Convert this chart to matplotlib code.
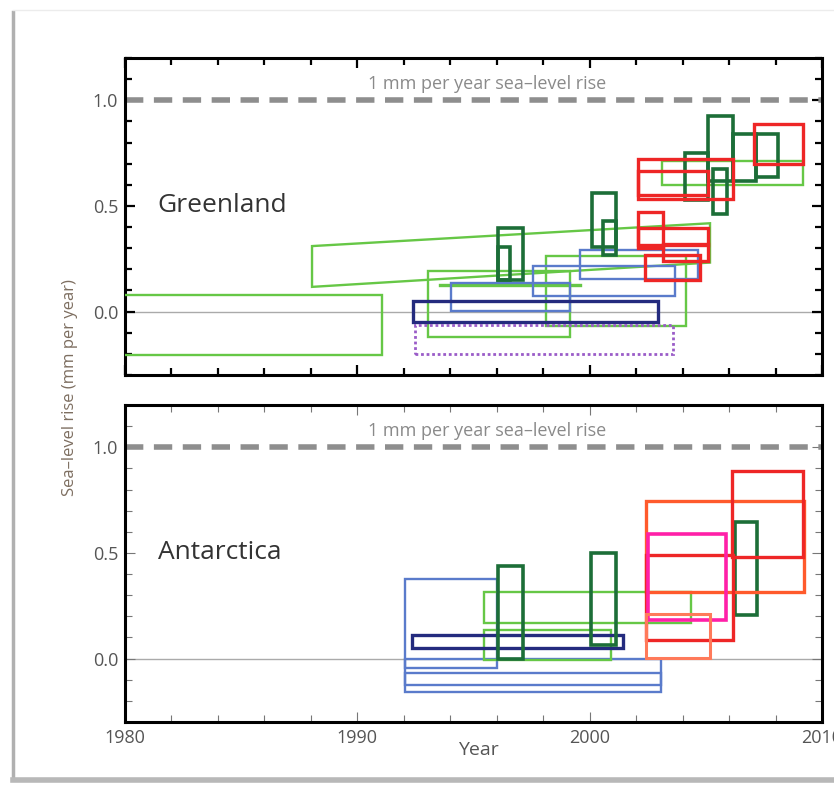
import matplotlib
matplotlib.use("Agg")
import matplotlib.pyplot as plt
from matplotlib.patches import Rectangle, Polygon
from matplotlib.lines import Line2D
from matplotlib.ticker import MultipleLocator

plt.rcParams["font.family"] = ["Open Sans", "DejaVu Sans"]

# boxes are (start year, end year, low rate, high rate) in mm per year
gre_light_green = [
    (1978.0, 1991.05, -0.205, 0.08),
    (1993.05, 1999.15, -0.118, 0.19),
    (1993.55, 1999.64, 0.119, 0.125),
    (1998.1, 2004.14, -0.067, 0.262),
    (2003.1, 2009.17, 0.60, 0.711),
]
# trend band: start, end, low at start, high at start, low at end, high at end
gre_trend = (1988.05, 2005.18, 0.117, 0.31, 0.232, 0.418)
gre_dark_green = [
    (1996.05, 1997.14, 0.151, 0.397),
    (1996.05, 1996.56, 0.151, 0.305),
    (2000.1, 2001.13, 0.305, 0.559),
    (2000.56, 2001.13, 0.27, 0.43),
    (2004.1, 2005.1, 0.527, 0.75),
    (2005.1, 2006.15, 0.62, 0.924),
    (2006.15, 2007.16, 0.62, 0.84),
    (2007.16, 2008.1, 0.635, 0.84),
    (2005.32, 2005.9, 0.463, 0.675),
]
gre_blue = [
    (1994.04, 1999.15, 0.003, 0.135),
    (1997.57, 2003.66, 0.076, 0.218),
    (1999.58, 2004.67, 0.154, 0.29),
]
gre_navy = [(1992.38, 2002.94, -0.048, 0.05)]
gre_purple = [(1992.5, 2003.6, -0.2, -0.063)]
gre_red = [
    (2002.09, 2006.15, 0.535, 0.72),
    (2002.09, 2005.1, 0.552, 0.667),
    (2007.09, 2009.17, 0.70, 0.886),
    (2002.09, 2003.14, 0.30, 0.473),
    (2002.09, 2005.1, 0.314, 0.397),
    (2003.14, 2005.1, 0.238, 0.32),
    (2002.37, 2004.74, 0.148, 0.267),
]

ant_blue = [
    (1992.04, 1996.03, -0.046, 0.378),
    (1992.04, 2003.05, -0.124, 0.0),
    (1992.04, 2003.05, -0.16, -0.067),
]
ant_navy = [(1992.36, 2001.45, 0.051, 0.114)]
ant_light_green = [
    (1995.47, 2000.93, -0.008, 0.135),
    (1995.47, 2004.35, 0.17, 0.316),
]
ant_dark_green = [
    (1996.05, 1997.14, 0.0, 0.44),
    (2000.07, 2001.13, 0.062, 0.5),
    (2006.25, 2007.19, 0.206, 0.646),
]
ant_orange = [(2002.42, 2009.24, 0.313, 0.746)]
ant_red = [
    (2006.11, 2009.17, 0.482, 0.889),
    (2002.42, 2006.15, 0.086, 0.492),
]
ant_magenta = [(2002.49, 2005.87, 0.181, 0.59)]
ant_salmon = [(2002.42, 2005.18, 0.003, 0.21)]

year_ticks = [1980, 1990, 2000, 2010]
rate_ticks = [0.0, 0.5, 1.0]
reference_rate = 1.0

styles = {
    "light_green": dict(color="#66C746", lw=1.7),
    "dark_green": dict(color="#1C6E38", lw=2.6),
    "blue": dict(color="#5A7BCB", lw=1.7),
    "navy": dict(color="#242B7E", lw=2.4),
    "purple": dict(color="#9A5CC8", lw=2.0, ls=(0, (1, 1))),
    "red": dict(color="#EE2626", lw=2.4),
    "orange": dict(color="#FF5A2C", lw=2.4),
    "magenta": dict(color="#FF20A8", lw=2.6),
    "salmon": dict(color="#FF7A5A", lw=2.2),
}


def draw_boxes(ax, boxes, style):
    st = styles[style]
    for x0, x1, y0, y1 in boxes:
        ax.add_patch(Rectangle((x0, y0), x1 - x0, y1 - y0, fill=False,
                               edgecolor=st["color"], lw=st["lw"],
                               ls=st.get("ls", "-"), zorder=3))


def setup(ax, name, heavy):
    ax.set_xlim(1980, 2010)
    ax.set_ylim(-0.3, 1.2)
    ax.axhline(0, color="#aaaaaa", lw=1, zorder=1)
    ax.axhline(reference_rate, color="#8e8e8e", lw=4, dashes=(3.3, 1.9), zorder=2)
    ax.text(1995.6, 1.075, "1 mm per year sea\u2013level rise", ha="center",
            va="center", fontsize=13, color="#8a8a8a")
    ax.text(1981.4, 0.5, name, ha="left", va="center", fontsize=19, color="#333333")
    ax.set_xticks(year_ticks)
    ax.set_yticks(rate_ticks)
    ax.xaxis.set_minor_locator(MultipleLocator(2))
    ax.yaxis.set_minor_locator(MultipleLocator(0.1))
    ax.yaxis.set_major_formatter(plt.FuncFormatter(lambda v, p: f"{v:.1f}"))
    tc = "black" if heavy else "#777777"
    tw = 1.6 if heavy else 0.8
    ax.tick_params(which="both", direction="in", top=True, right=True,
                   color=tc, width=tw, labelsize=13, labelcolor="#555555", pad=5)
    ax.tick_params(which="major", length=7)
    ax.tick_params(which="minor", length=5)
    for sp in ax.spines.values():
        sp.set_linewidth(2.2)
        sp.set_color("black")


fig = plt.figure(figsize=(8.34, 7.86), dpi=100)

# page frame like the screenshot
fig.add_artist(Line2D([13 / 834, 13 / 834], [10 / 786, 1 - 12 / 786],
                      transform=fig.transFigure, color="#b0b0b0", lw=2.5))
fig.add_artist(Line2D([13 / 834, 1], [1 - 10 / 786, 1 - 10 / 786],
                      transform=fig.transFigure, color="#ececec", lw=1))
fig.add_artist(Line2D([13 / 834, 1], [6 / 786, 6 / 786],
                      transform=fig.transFigure, color="#b8b8b8", lw=4))

ax1 = fig.add_axes([125 / 834, 1 - 375 / 786, 697 / 834, 317 / 786])
ax2 = fig.add_axes([125 / 834, 1 - 722 / 786, 697 / 834, 317 / 786])

setup(ax1, "Greenland", True)
setup(ax2, "Antarctica", False)
ax1.tick_params(labelbottom=False)

# Greenland
draw_boxes(ax1, gre_light_green, "light_green")
x0, x1, lo0, hi0, lo1, hi1 = gre_trend
ax1.add_patch(Polygon([(x0, lo0), (x0, hi0), (x1, hi1), (x1, lo1)], closed=True,
                      fill=False, edgecolor=styles["light_green"]["color"],
                      lw=styles["light_green"]["lw"], zorder=3))
draw_boxes(ax1, gre_blue, "blue")
draw_boxes(ax1, gre_navy, "navy")
draw_boxes(ax1, gre_purple, "purple")
draw_boxes(ax1, gre_dark_green, "dark_green")
draw_boxes(ax1, gre_red, "red")

# Antarctica
draw_boxes(ax2, ant_blue, "blue")
draw_boxes(ax2, ant_light_green, "light_green")
draw_boxes(ax2, ant_navy, "navy")
draw_boxes(ax2, ant_dark_green, "dark_green")
draw_boxes(ax2, ant_orange, "orange")
draw_boxes(ax2, ant_red, "red")
draw_boxes(ax2, ant_magenta, "magenta")
draw_boxes(ax2, ant_salmon, "salmon")

fig.text(70 / 834, 1 - 388 / 786, "Sea\u2013level rise (mm per year)", rotation=90,
         ha="center", va="center", fontsize=12, color="#7d6e60")
fig.text(478 / 834, 1 - 750 / 786, "Year", ha="center", va="center",
         fontsize=14, color="#555555")

fig.savefig("out.png", dpi=100)
